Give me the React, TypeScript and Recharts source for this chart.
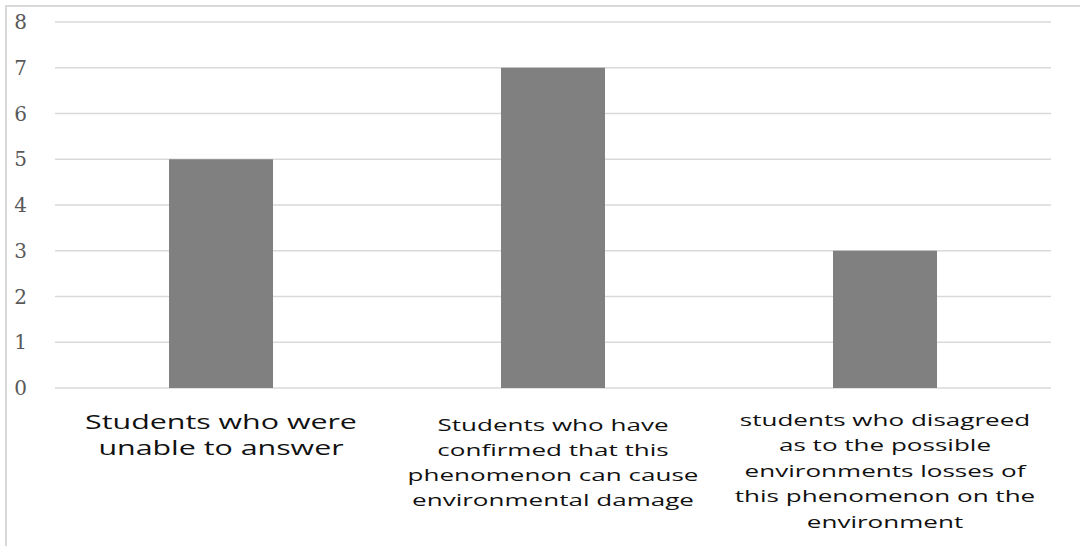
import React from 'react';
import { BarChart, Bar, XAxis, YAxis, CartesianGrid } from 'recharts';

const categories = [
  'Students who were unable to answer',
  'Students who have confirmed that this phenomenon can cause environmental damage',
  'students who disagreed as to the possible environments losses of this phenomenon on the environment',
];
const studentCounts = [5, 7, 3];
const yTicks = [0, 1, 2, 3, 4, 5, 6, 7, 8];
const categoryLabelLines = [
  ['Students who were', 'unable to answer'],
  ['Students who have', 'confirmed that this', 'phenomenon can cause', 'environmental damage'],
  ['students who disagreed', 'as to the possible', 'environments losses of', 'this phenomenon on the', 'environment'],
];

const data = categories.map((c, i) => ({ category: c, value: studentCounts[i] }));

const labelStyles = [
  { fontSize: 19.6, first: 41, step: 26 },
  { fontSize: 16.8, first: 43, step: 25 },
  { fontSize: 16.8, first: 38, step: 25.5 },
];

const XTick = (props: any) => {
  const { x, y, payload, index } = props;
  const idx = typeof index === 'number' ? index : categories.indexOf(payload.value);
  const lines = categoryLabelLines[idx] || [];
  const st = labelStyles[idx] || labelStyles[1];
  return (
    <g transform={`translate(${x},${y})`}>
      {lines.map((ln, i) => (
        <text
          key={i}
          x={0}
          y={st.first + i * st.step}
          textAnchor="middle"
          fontFamily="'Open Sans', sans-serif"
          fontSize={st.fontSize}
          fill="#111"
          transform="scale(1.55,1)"
        >
          {ln}
        </text>
      ))}
    </g>
  );
};

export default function App() {
  return (
    <div style={{ position: 'absolute', left: 0, top: 0, width: 1080, height: 546, background: '#fff', overflow: 'hidden' }}>
      <div
        style={{
          position: 'absolute',
          left: 5,
          top: 5,
          width: 1100,
          height: 600,
          borderLeft: '2px solid #d9d9d9',
          borderTop: '2px solid #d9d9d9',
        }}
      />
      <div style={{ position: 'absolute', left: 0, top: 0 }}>
        <BarChart
          width={1080}
          height={546}
          data={data}
          margin={{ top: 22, right: 29, bottom: 0, left: 0 }}
        >
          <CartesianGrid vertical={false} stroke="#d9d9d9" strokeWidth={1.5} />
          <XAxis
            dataKey="category"
            axisLine={false}
            tickLine={false}
            tickSize={0}
            tickMargin={0}
            height={158}
            interval={0}
            tick={<XTick />}
          />
          <YAxis
            domain={[0, 8]}
            ticks={yTicks}
            width={55}
            axisLine={false}
            tickLine={false}
            tickSize={0}
            tickMargin={28}
            tick={{ fill: '#595959', fontSize: 20, fontFamily: "'DejaVu Serif', serif" }}
          />
          <Bar dataKey="value" fill="#808080" barSize={104} isAnimationActive={false} />
        </BarChart>
      </div>
    </div>
  );
}
